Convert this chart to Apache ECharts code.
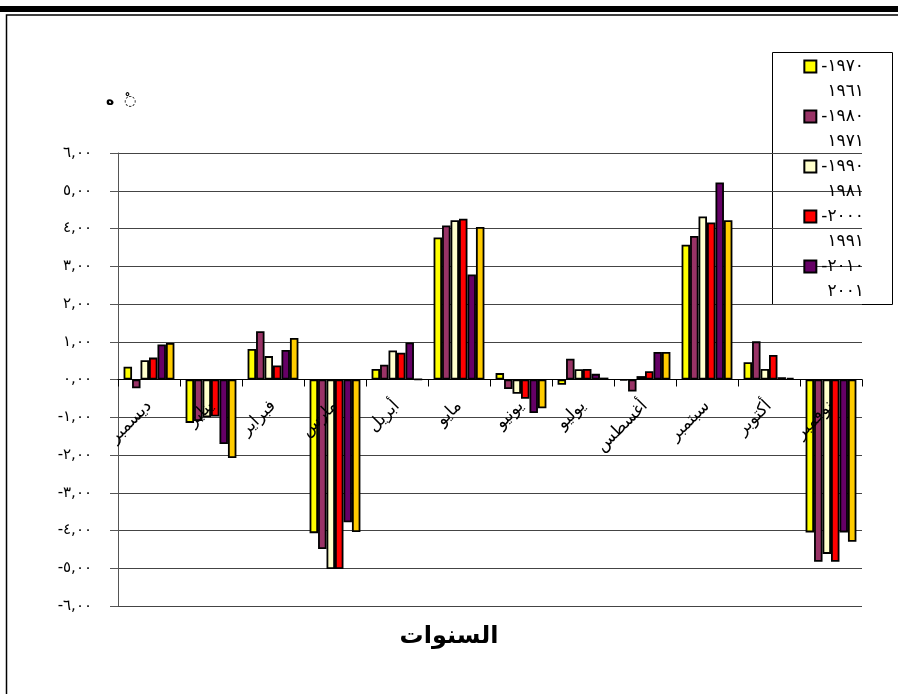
<!DOCTYPE html>
<html>
<head>
<meta charset="utf-8">
<script src="https://cdn.jsdelivr.net/npm/echarts@6/dist/echarts.min.js"></script>
<style>
html,body{margin:0;padding:0;background:#fff;}
#chart{width:898px;height:694px;}
</style>
</head>
<body>
<div id="chart"></div>
<script>
// ---- data ----
var categories = ['ديسمبر','يناير','فبراير','مارس','أبريل','مايو','يونيو','يوليو','أغسطس','سبتمبر','أكتوبر','نوفمبر'];
var seriesNames = ['١٩٦١-١٩٧٠','١٩٧١-١٩٨٠','١٩٨١-١٩٩٠','١٩٩١-٢٠٠٠','٢٠٠١-٢٠١٠','٢٠١١'];
var legendLine1 = ['-١٩٧٠','-١٩٨٠','-١٩٩٠','-٢٠٠٠','-٢٠١٠'];
var legendLine2 = ['١٩٦١','١٩٧١','١٩٨١','١٩٩١','٢٠٠١'];
var s1961 = [0.34, -1.15, 0.81, -4.07, 0.28, 3.76, 0.17, -0.14, -0.02, 3.57, 0.46, -4.05];
var s1971 = [-0.23, -1.10, 1.28, -4.49, 0.39, 4.08, -0.25, 0.55, -0.32, 3.80, 1.01, -4.83];
var s1981 = [0.51, -1.00, 0.62, -5.02, 0.77, 4.22, -0.38, 0.27, 0.09, 4.32, 0.28, -4.62];
var s1991 = [0.58, -0.98, 0.37, -5.02, 0.71, 4.26, -0.51, 0.28, 0.22, 4.16, 0.65, -4.83];
var s2001 = [0.93, -1.71, 0.78, -3.78, 0.98, 2.78, -0.89, 0.15, 0.73, 5.22, 0.06, -4.05];
var s6    = [0.97, -2.08, 1.10, -4.04, 0.01, 4.04, -0.76, 0.05, 0.73, 4.22, 0.04, -4.30];
var colors = ['#FFFF00','#993366','#FFFFCC','#FF0000','#660066','#FFCC00'];
var yMin = -6, yMax = 6, yStep = 1;
var xTitle = 'السنوات';
var yUnit = 'ه  ◌ْ';

var arabicDigits = '٠١٢٣٤٥٦٧٨٩';
function toArabic(s){ return s.replace(/[0-9]/g, function(d){ return arabicDigits[+d]; }); }
function fmtY(v){
  var r = Math.round(v * 100) / 100;
  var s = Math.abs(r).toFixed(2).replace('.', ',');
  return (r < 0 ? '-' : '') + toArabic(s);
}

var allData = [s1961, s1971, s1981, s1991, s2001, s6];
var font = "'DejaVu Sans', 'Noto Sans', sans-serif";

var gridTop = 153, gridBottom = 88, H = 694;
var plotH = H - gridTop - gridBottom;
var zeroOffset = -plotH * (0 - yMin) / (yMax - yMin); // move category axis up to value 0

var chart = echarts.init(document.getElementById('chart'), null, {renderer:'canvas'});
var series = allData.map(function(d, i){
  return {
    name: seriesNames[i], type: 'bar', data: d,
    barGap: '0%', barCategoryGap: '18%',
    itemStyle: {color: colors[i], borderColor: '#000', borderWidth: 1.8},
    emphasis: {disabled: true}
  };
});
var legendNames = seriesNames.slice(0, 5);
chart.setOption({
  animation: false,
  textStyle: {fontFamily: font},
  grid: {left: 118, right: 36, top: gridTop, bottom: gridBottom},
  title: {text: xTitle, left: 'center', top: 620,
    textStyle: {fontSize: 24, fontWeight: 'bold', color: '#000', fontFamily: font}},
  legend: [{
    data: legendNames, orient: 'vertical', right: 34, top: 56.5, padding: 0,
    icon: 'rect', itemWidth: 12, itemHeight: 12, itemGap: 30, selectedMode: false,
    itemStyle: {borderColor: '#000', borderWidth: 2},
    textStyle: {fontSize: 17, lineHeight: 20, color: '#000', fontFamily: font},
    formatter: function(n){ return legendLine1[legendNames.indexOf(n)]; }
  }, {
    data: legendNames, orient: 'vertical', right: 29, top: 81.5, padding: 0, align: 'right',
    icon: 'none', itemWidth: 0, itemHeight: 12, itemGap: 30, selectedMode: false,
    textStyle: {fontSize: 17, lineHeight: 20, color: '#000', fontFamily: font},
    formatter: function(n){ return legendLine2[legendNames.indexOf(n)]; }
  }],
  graphic: [
    {type: 'rect', shape: {x: 0, y: 6, width: 898, height: 6}, style: {fill: '#000'}, silent: true},
    {type: 'rect', shape: {x: 6.5, y: 15, width: 900, height: 700}, style: {fill: 'none', stroke: '#000', lineWidth: 1.5}, silent: true},
    {type: 'rect', shape: {x: 772.5, y: 52.5, width: 120, height: 252}, style: {fill: 'none', stroke: '#000', lineWidth: 1}, silent: true, z: -1},
    {type: 'text', x: 106, y: 94, style: {text: yUnit, font: "bold 14px 'DejaVu Sans'", fill: '#000'}, silent: true}
  ],
  xAxis: {
    type: 'category', data: categories, z: 5,
    offset: zeroOffset,
    axisLine: {onZero: false, lineStyle: {color: '#000', width: 1}},
    axisTick: {show: true, length: 7, lineStyle: {color: '#000'}},
    axisLabel: {rotate: 45, margin: 24, fontSize: 17, color: '#000', fontFamily: font, interval: 0}
  },
  yAxis: {
    type: 'value', min: yMin, max: yMax, interval: yStep,
    axisLine: {show: true, lineStyle: {color: '#555', width: 1}},
    axisTick: {show: true, length: 8, lineStyle: {color: '#555'}},
    axisLabel: {margin: 26, fontSize: 15, color: '#000', fontFamily: font, formatter: fmtY},
    splitLine: {show: true, lineStyle: {color: '#444', width: 1}}
  },
  series: series
});
</script>
</body>
</html>
